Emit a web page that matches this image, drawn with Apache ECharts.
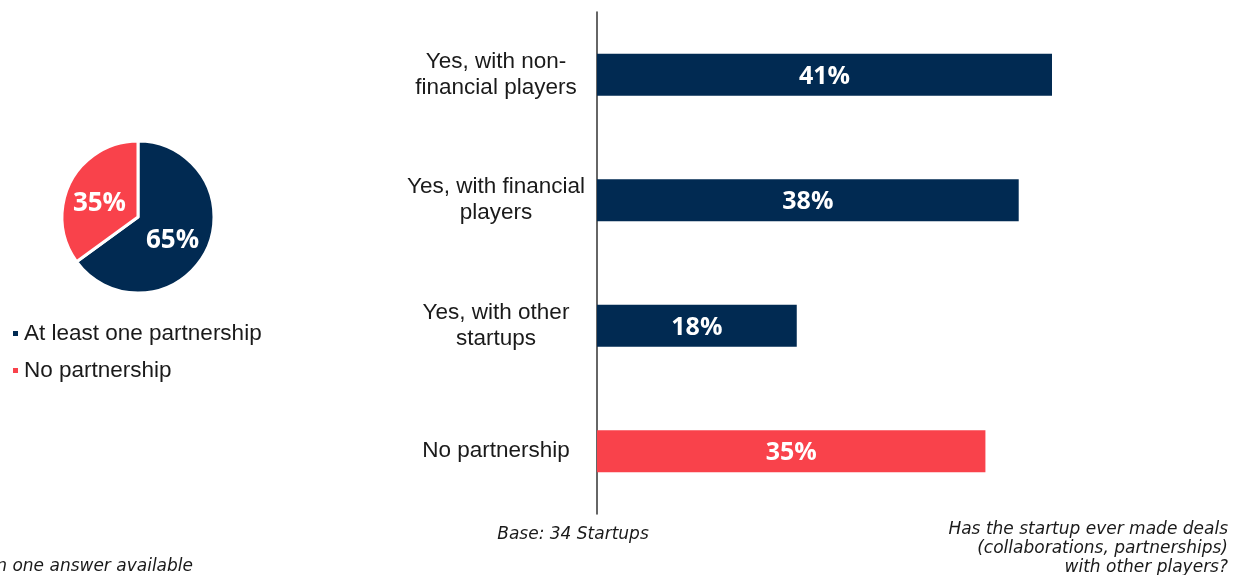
<!DOCTYPE html>
<html><head><meta charset="utf-8">
<script src="https://cdn.jsdelivr.net/npm/echarts@6/dist/echarts.min.js"></script>
<style>html,body{margin:0;padding:0;background:#fff}#c{width:1238px;height:575px}</style>
</head><body><div id="c"></div>
<script>
const categories = ['Yes, with non-\nfinancial players', 'Yes, with financial\nplayers', 'Yes, with other\nstartups', 'No partnership'];
const barValues = [41, 38, 18, 35];
const barColors = ['#012a52', '#012a52', '#012a52', '#f9424b'];
const pieNames = ['At least one partnership', 'No partnership'];
const pieValues = [65, 35];
const pieColors = ['#012a52', '#f9424b'];

const chart = echarts.init(document.getElementById('c'));
chart.setOption({
  animation: false,
  grid: { left: 597, top: 12, width: 455, height: 502, containLabel: false },
  xAxis: { type: 'value', min: 0, max: 41, show: false },
  yAxis: {
    type: 'category', inverse: true, data: categories,
    axisLine: { show: true, lineStyle: { color: '#333', width: 1.5 } },
    axisTick: { show: false },
    axisLabel: { color: '#1a1a1a', fontFamily: 'Liberation Sans', fontSize: 22.5, lineHeight: 26, align: 'center', margin: 101 }
  },
  legend: {
    orient: 'vertical', left: 11, top: 322, padding: 0, itemWidth: 7, itemHeight: 7, itemGap: 14,
    icon: 'rect', data: pieNames,
    textStyle: { color: '#1a1a1a', fontFamily: 'Liberation Sans', fontSize: 22.5 }
  },
  series: [
    {
      type: 'bar', data: barValues.map((v, i) => ({ value: v, itemStyle: { color: barColors[i] } })),
      barWidth: 42,
      label: { show: true, position: 'inside', offset: [0, 2], formatter: '{c}%', color: '#fff', fontFamily: 'Open Sans', fontWeight: 'bold', fontSize: 25 }
    },
    {
      type: 'pie', center: [138, 217], radius: [0, 76], startAngle: 90, clockwise: true,
      data: pieNames.map((n, i) => ({ name: n, value: pieValues[i], itemStyle: { color: pieColors[i] } })),
      itemStyle: { borderColor: '#fff', borderWidth: 3 },
      label: { show: true, position: 'inside', offset: [-2, 5], formatter: '{c}%', color: '#fff', fontFamily: 'Open Sans', fontWeight: 'bold', fontSize: 26 },
      labelLine: { show: false }
    }
  ],
  graphic: [
    { type: 'text', x: 573, y: 526, style: { text: 'Base: 34 Startups', font: 'italic 17px "DejaVu Sans"', fill: '#1a1a1a', textAlign: 'center' } },
    { type: 'text', x: 193, y: 558, style: { text: 'More than one answer available', font: 'italic 17px "DejaVu Sans"', fill: '#1a1a1a', textAlign: 'right' } },
    { type: 'text', x: 1228, y: 520, style: { text: 'Has the startup ever made deals\n(collaborations, partnerships)\nwith other players?', font: 'italic 17px "DejaVu Sans"', lineHeight: 19, fill: '#1a1a1a', textAlign: 'right' } }
  ]
});
</script></body></html>
